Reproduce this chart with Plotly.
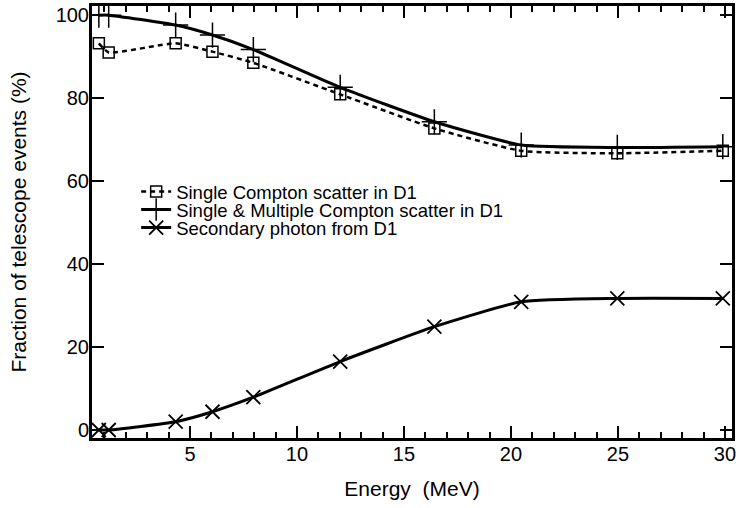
import plotly.graph_objects as go

energy = [0.74, 1.2, 4.33, 6.05, 7.96, 12.02, 16.42, 20.48, 24.97, 29.9]
single_compton = [93.2, 91.0, 93.2, 91.2, 88.5, 80.9, 72.7, 67.3, 66.7, 67.3]
single_multiple = [100.0, 100.0, 97.6, 95.2, 91.7, 82.6, 74.3, 68.7, 68.1, 68.3]
secondary = [0.0, 0.0, 2.0, 4.4, 7.9, 16.5, 24.9, 30.9, 31.7, 31.7]

names = ["Single Compton scatter in D1",
         "Single & Multiple Compton scatter in D1",
         "Secondary photon from D1"]

x_ticks = [5, 10, 15, 20, 25, 30]
y_ticks = [0, 20, 40, 60, 80, 100]
x_range = [0.42, 30.33]
y_range = [-1.93, 102.2]

font = "Liberation Sans, Arial, sans-serif"
tick_font = dict(family=font, size=20, color="black")
title_font = dict(family=font, size=21, color="black")
legend_font = dict(family=font, size=18.5, color="black")

fig = go.Figure()
fig.add_trace(go.Scatter(
    x=energy, y=single_compton, name=names[0], mode="lines+markers", legend="legend",
    line=dict(color="black", width=2.5, dash="5px,4px", shape="spline", smoothing=0.5),
    marker=dict(symbol="square-open", size=11, color="black", line=dict(width=1.5)),
))
fig.add_trace(go.Scatter(
    x=energy, y=single_multiple, name=names[1], mode="lines+markers", legend="legend2",
    line=dict(color="black", width=3, shape="spline", smoothing=0.5),
    marker=dict(symbol="cross-thin-open", size=18, color="black", line=dict(width=1.5, color="black")),
))
fig.add_trace(go.Scatter(
    x=energy, y=secondary, name=names[2], mode="lines+markers", legend="legend3",
    line=dict(color="black", width=3, shape="spline", smoothing=0.5),
    marker=dict(symbol="x-thin-open", size=14, color="black", line=dict(width=1.8, color="black")),
))
# invisible helper trace on its own overlay axes so the top axis with minor ticks is drawn
fig.add_trace(go.Scatter(
    x=energy, y=secondary, xaxis="x2", yaxis="y2", mode="none",
    showlegend=False, hoverinfo="skip",
))

fig.update_layout(
    template="none",
    width=738, height=508,
    margin=dict(l=92, r=6, t=6, b=70),
    plot_bgcolor="white", paper_bgcolor="white",
    font=dict(family=font, size=18, color="black"),
    xaxis=dict(
        range=x_range, tickvals=x_ticks, ticks="inside", ticklen=12, tickwidth=2,
        tickcolor="black", showline=True, linecolor="black", linewidth=3, mirror=True,
        showgrid=False, zeroline=False, automargin=False, tickfont=tick_font,
        ticklabeloverflow="allow", ticklabelstandoff=-4,
        minor=dict(dtick=1, tick0=0, ticks="inside", ticklen=6, tickwidth=2,
                   tickcolor="black", showgrid=False),
        title=dict(text="Energy\u00a0 (MeV)", font=title_font, standoff=18),
    ),
    xaxis2=dict(
        overlaying="x", anchor="y2", side="top", range=x_range, tickvals=x_ticks,
        ticks="inside", ticklen=12, tickwidth=2, tickcolor="black", showticklabels=False,
        showline=False, showgrid=False, zeroline=False, automargin=False,
        minor=dict(dtick=1, tick0=0, ticks="inside", ticklen=6, tickwidth=2,
                   tickcolor="black", showgrid=False),
    ),
    yaxis=dict(
        range=y_range, tickvals=y_ticks, ticks="inside", ticklen=12, tickwidth=2,
        tickcolor="black", showline=True, linecolor="black", linewidth=3,
        mirror="allticks", showgrid=False, zeroline=False, automargin=False,
        tickfont=tick_font, ticklabelstandoff=-4,
        title=dict(text="Fraction of telescope events (%)", font=title_font, standoff=24),
    ),
    yaxis2=dict(
        overlaying="y", anchor="x2", range=y_range, showticklabels=False, ticks="",
        showline=False, showgrid=False, zeroline=False, automargin=False,
    ),
    showlegend=True,
)

legend_common = dict(xanchor="left", yanchor="middle", bgcolor="rgba(0,0,0,0)",
                     font=legend_font, itemwidth=30, borderwidth=0)
fig.update_layout(
    legend=dict(x=0.069, y=(438 - 192) / 432, **legend_common),
    legend2=dict(x=0.069, y=(438 - 210) / 432, **legend_common),
    legend3=dict(x=0.069, y=(438 - 228) / 432, **legend_common),
)

fig.write_html("out.html", config={"displayModeBar": False},
               post_script="document.body.style.margin='0';")
